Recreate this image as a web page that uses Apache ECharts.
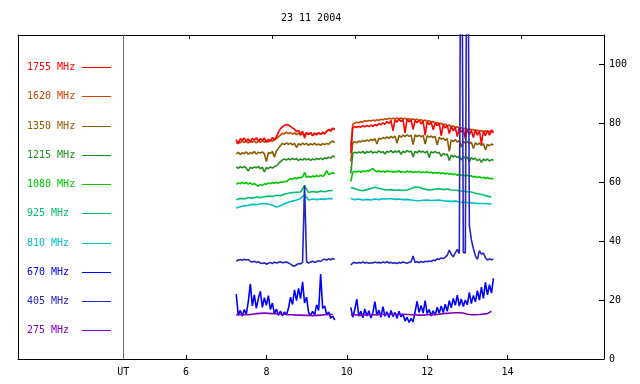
<!DOCTYPE html>
<html><head><meta charset="utf-8">
<script src="https://cdn.jsdelivr.net/npm/echarts@6/dist/echarts.min.js"></script>
<style>html,body{margin:0;padding:0;background:#fff}#c{width:640px;height:384px}</style>
</head><body><div id="c"></div>
<script>
// ---------------- data ----------------
const chartTitle = '23 11 2004';
const xTickValues = [6, 8, 10, 12, 14];
const utValue = 4.44;
const utLabel = 'UT';
const yTickValues = [0, 20, 40, 60, 80, 100];
const gapTime = 9.9;

const tFine1 = [7.25,7.30,7.35,7.40,7.45,7.50,7.55,7.60,7.65,7.70,
 7.75,7.80,7.85,7.90,7.95,8.00,8.05,8.10,8.15,8.20,
 8.25,8.30,8.35,8.40,8.45,8.50,8.55,8.60,8.65,8.70,
 8.75,8.80,8.85,8.90,8.95,9.00,9.05,9.10,9.15,9.20,
 9.25,9.30,9.35,9.40,9.45,9.50,9.55,9.60,9.65,9.70];
const tFine2 = [10.10,10.15,10.20,10.25,10.30,10.35,10.40,10.45,10.50,10.55,
 10.60,10.65,10.70,10.75,10.80,10.85,10.90,10.95,11.00,11.05,
 11.10,11.15,11.20,11.25,11.30,11.35,11.40,11.45,11.50,11.55,
 11.60,11.65,11.70,11.75,11.80,11.85,11.90,11.95,12.00,12.05,
 12.10,12.15,12.20,12.25,12.30,12.35,12.40,12.45,12.50,12.55,
 12.60,12.65,12.70,12.75,12.80,12.85,12.90,12.95,13.00,13.05,
 13.10,13.15,13.20,13.25,13.30,13.35,13.40,13.45,13.50,13.55,
 13.60,13.65];
const tCoarse1 = [7.25,7.35,7.45,7.55,7.65,7.75,7.85,7.95,8.05,8.15,
 8.25,8.35,8.45,8.55,8.65,8.75,8.85,8.95,9.05,9.15,
 9.25,9.35,9.45,9.55,9.65];
const tCoarse2 = [10.1,10.2,10.3,10.4,10.5,10.6,10.7,10.8,10.9,11.0,
 11.1,11.2,11.3,11.4,11.5,11.6,11.7,11.8,11.9,12.0,
 12.1,12.2,12.3,12.4,12.5,12.6,12.7,12.8,12.9,13.0,
 13.1,13.2,13.3,13.4,13.5,13.6];

const f1755a = [74.5,73.0,74.8,74.2,75.0,74.0,74.8,73.5,74.9,74.3,
 75.1,74.0,74.8,74.2,75.0,73.6,74.6,74.0,75.2,74.4,
 75.5,77.0,78.2,78.8,79.3,79.6,79.4,79.0,78.5,78.0,
 77.2,77.6,76.4,77.3,75.0,77.0,76.2,76.9,75.8,76.7,
 76.1,76.8,76.3,77.0,76.5,77.4,77.9,77.6,78.4,78.0];
const f1755b = [70.0,78.5,78.9,78.6,79.0,78.7,79.2,78.8,79.3,78.9,
 79.4,79.0,79.6,79.2,79.9,79.5,80.2,79.7,80.6,80.0,
 81.0,77.5,81.2,80.4,81.5,80.6,81.3,76.8,81.4,80.5,
 81.2,78.0,81.0,80.2,81.1,79.8,80.8,76.0,80.6,79.6,
 80.5,77.8,80.2,79.2,80.0,75.8,79.6,78.4,79.3,76.5,
 79.0,77.5,78.6,75.5,78.5,77.0,78.2,74.8,78.0,76.3,
 77.6,75.2,77.8,76.0,77.5,73.0,77.4,75.8,77.6,76.0,
 77.8,76.8];

const f1620a = [73.2,73.8,73.4,74.0,73.5,73.9,73.3,74.1,73.6,73.9,
 73.4,74.0,73.5,74.1,73.6,74.0,73.7,74.2,73.9,74.4,
 74.8,75.5,76.0,76.6,76.4,77.0,76.5,76.9,76.3,76.8,
 76.2,76.7,76.0,76.6,76.1,76.7,76.2,76.8,76.0,76.6,
 76.2,76.9,76.3,76.8,76.5,77.2,77.8,77.3,78.2,77.9];
const f1620b = [72.0,79.8,80.1,80.4,80.2,80.6,80.5,80.9,80.7,81.0,
 80.8,81.1,80.9,81.2,81.0,81.4,81.2,81.6,81.4,81.7,
 81.5,81.7,81.5,81.8,81.6,81.8,81.5,81.7,81.4,81.6,
 81.3,81.5,81.2,81.4,81.0,81.2,80.9,81.1,80.7,80.9,
 80.5,80.6,80.2,80.3,79.9,80.0,79.6,79.7,79.3,79.4,
 79.0,79.1,78.7,78.8,78.4,78.5,78.2,78.3,78.0,78.1,
 77.8,77.9,77.6,77.7,77.4,77.5,77.3,77.4,77.2,77.3,
 77.1,77.2];

const f1350a = [69.6,70.2,69.4,70.0,69.7,70.3,69.5,70.1,69.8,70.4,
 69.6,70.2,69.9,70.3,69.7,67.0,70.1,69.8,70.4,68.5,
 70.6,71.5,72.5,73.2,72.8,73.4,72.9,73.3,72.7,73.2,
 71.8,73.1,72.6,73.3,72.8,73.2,72.5,73.1,72.7,73.3,
 72.6,73.0,72.5,73.1,72.8,73.2,72.9,73.6,74.0,73.5];
const f1350b = [67.0,73.5,73.8,73.4,74.0,73.7,74.2,73.9,74.4,74.0,
 74.6,74.2,74.8,73.0,75.0,74.6,75.2,74.8,75.4,74.9,
 75.6,75.1,75.7,73.2,75.9,75.3,76.0,75.5,76.1,75.6,
 76.0,72.8,76.1,75.5,76.0,75.4,75.9,73.0,75.8,75.3,
 75.7,75.2,75.6,72.6,75.3,74.6,75.0,74.2,74.8,70.5,
 74.4,73.8,74.5,73.6,74.2,72.0,73.9,73.3,73.8,73.0,
 73.6,71.5,73.4,72.8,73.3,72.5,73.1,71.0,72.9,72.4,
 73.0,72.6];

const f1215a = [65.2,64.7,65.3,64.9,65.4,64.8,63.8,65.1,64.7,65.2,
 64.9,65.3,64.6,65.1,63.5,65.0,64.6,65.2,64.8,65.3,
 65.6,66.3,67.0,67.6,67.9,67.5,68.0,67.6,68.1,67.7,
 68.0,67.4,67.9,67.5,68.1,67.6,68.0,67.4,67.9,67.6,
 68.1,67.8,68.2,67.7,68.3,68.0,68.5,68.2,68.9,68.6];
const f1215b = [63.0,69.8,70.2,69.9,70.3,70.0,70.5,69.8,70.4,70.1,
 70.6,69.9,70.3,70.0,70.7,70.1,70.4,69.6,70.5,70.2,
 70.8,70.0,70.6,70.2,70.7,69.5,70.6,70.1,70.8,70.3,
 70.6,68.6,70.5,70.0,70.7,70.2,70.5,70.0,70.6,68.4,
 70.4,70.0,70.5,69.9,70.2,68.8,69.8,69.3,69.6,67.4,
 69.2,68.6,69.0,68.4,68.9,67.6,68.7,68.2,68.6,67.0,
 68.4,67.8,68.2,67.3,67.9,66.8,67.8,67.4,67.9,67.2,
 67.7,67.5];

const f1080a = [59.3,59.8,59.5,60.0,59.6,59.9,59.4,59.8,59.2,59.6,
 59.0,58.7,59.2,58.9,59.5,59.3,59.8,59.5,59.9,59.6,
 60.0,59.7,60.1,60.0,60.3,60.2,60.8,61.2,61.0,61.5,
 61.2,61.6,61.5,61.8,63.4,61.6,62.1,61.7,62.2,61.8,
 62.3,61.9,62.4,62.0,62.5,64.0,62.6,62.9,63.2,62.9];
const f1080b = [60.2,63.4,63.7,63.5,63.8,63.4,63.9,63.6,64.0,63.7,
 64.3,64.7,63.9,63.6,63.9,63.5,63.8,63.4,63.9,63.6,
 63.8,63.4,63.7,63.5,63.9,63.4,63.7,63.3,63.8,63.5,
 63.7,63.3,63.6,63.4,63.7,63.2,63.5,63.3,63.6,63.2,
 63.4,63.0,63.3,63.1,63.3,62.9,63.2,62.8,63.1,62.7,
 63.0,62.6,62.8,62.4,62.7,62.3,62.5,62.1,62.4,62.0,
 62.2,61.8,62.0,61.6,61.9,61.5,61.7,61.3,61.6,61.2,
 61.4,61.1];

const f925a = [54.1,54.5,54.3,54.8,54.6,55.0,54.8,55.1,55.3,55.2,
 55.6,55.4,56.0,56.3,56.5,56.6,56.7,58.8,56.5,56.9,
 56.6,57.0,56.8,57.1,57.2];
const f925b = [58.2,57.9,57.4,57.1,57.5,57.9,58.3,57.9,57.6,57.4,
 57.5,57.3,57.4,57.2,57.4,57.8,58.4,58.3,57.8,57.5,
 57.4,57.7,57.8,57.5,57.7,57.4,57.3,57.1,57.0,56.8,
 56.7,56.3,56.0,55.7,55.3,54.9];

const f810a = [51.3,51.7,52.0,52.2,52.5,52.4,52.7,52.8,52.6,52.2,
 51.6,52.0,52.7,53.2,53.6,54.0,54.5,55.8,54.0,54.3,
 54.1,54.3,54.2,54.5,54.4];
const f810b = [54.5,54.1,54.3,54.0,54.2,54.0,54.3,54.1,54.4,54.3,
 54.5,54.2,54.3,54.1,54.2,54.0,53.8,53.7,53.9,54.0,
 53.8,53.9,54.0,53.7,53.6,53.5,53.6,53.3,53.2,53.1,
 53.0,52.9,52.8,52.8,52.7,52.6];

const f670a = [22.0,14.8,16.5,14.6,16.8,15.2,19.5,25.5,18.0,21.8,
 17.2,20.5,23.0,17.5,20.8,18.2,21.5,16.8,19.0,15.3,
 17.0,14.8,16.3,14.6,16.0,15.0,17.2,21.0,18.5,23.5,
 19.8,24.0,20.5,26.2,19.0,21.0,15.8,14.8,16.2,15.0,
 18.4,16.5,28.8,17.2,18.0,15.0,16.0,13.8,14.6,13.2];
const f670b = [17.5,14.2,16.8,20.3,14.5,16.2,14.0,17.0,14.6,16.4,
 13.9,15.8,19.5,14.8,16.6,14.2,17.8,14.5,16.0,14.1,
 16.5,14.4,15.8,13.8,16.2,14.3,15.2,12.9,14.2,12.4,
 13.8,12.6,16.0,19.6,15.8,18.2,15.6,19.8,15.4,16.8,
 14.6,16.4,14.8,17.6,15.5,18.0,15.8,18.6,16.2,19.8,
 17.4,20.6,18.2,21.7,18.0,20.4,17.8,20.0,18.4,22.6,
 18.8,21.6,19.4,23.2,20.0,24.4,20.6,26.0,21.8,25.2,
 22.4,27.4];

const f405a = [33.2,33.6,33.8,33.5,33.9,33.6,33.8,33.1,32.9,33.2,
 32.8,33.0,32.6,32.4,32.7,32.2,32.5,32.8,32.4,32.9,
 32.6,32.8,33.0,32.7,32.8,32.9,32.6,32.2,31.7,31.5,
 32.0,32.4,32.3,32.8,59.0,33.0,32.6,32.9,33.2,32.8,
 33.0,33.4,33.1,33.7,33.9,33.6,34.0,33.7,34.1,33.8];
const f405b = [31.9,32.6,32.8,32.5,32.8,32.6,32.9,32.6,32.8,32.5,
 32.7,32.6,32.9,32.7,32.8,32.6,32.9,32.7,33.0,32.6,
 32.8,32.5,32.7,32.4,32.8,32.6,32.9,32.7,32.5,32.8,
 33.0,35.0,32.8,33.0,32.7,33.1,32.8,33.2,33.0,33.3,
 33.1,33.6,33.4,34.0,33.8,34.3,34.1,34.6,35.2,37.0,
 35.6,34.7,36.0,37.2,35.8,200,36.2,36.0,200,45.3,
 40.5,37.5,35.0,33.8,36.8,35.6,36.0,34.4,33.6,34.0,
 33.7,33.9];

const f275a = [15.0,15.0,15.1,15.0,15.2,15.4,15.5,15.6,15.5,15.4,
 15.4,15.3,15.2,15.0,15.0,14.9,14.9,14.8,14.8,14.7,
 14.8,14.9,15.0,15.1,15.2];
const f275b = [15.0,15.0,14.9,14.9,15.0,15.0,15.0,15.1,15.1,15.2,
 15.2,15.2,15.2,15.2,15.1,15.0,15.0,14.9,14.9,15.0,
 15.0,15.1,15.2,15.4,15.5,15.6,15.7,15.7,15.6,15.2,
 15.0,15.0,15.1,15.3,15.4,16.2];

const legendNames = ['1755 MHz','1620 MHz','1350 MHz','1215 MHz','1080 MHz','925 MHz','810 MHz','670 MHz','405 MHz','275 MHz'];

// ---------------- styling ----------------
const colors = {
  '1755 MHz':'#ff0000','1620 MHz':'#c84600','1350 MHz':'#8a5c00','1215 MHz':'#228b22',
  '1080 MHz':'#00c800','925 MHz':'#00bf6a','810 MHz':'#00c0c0','670 MHz':'#0000ff',
  '405 MHz':'#2525bf','275 MHz':'#8000c0'
};
const FONT = '"DejaVu Sans Mono", monospace';

function pairs(ta, va, tb, vb) {
  const a = ta.map((t, i) => [t, va[i]]);
  const b = tb.map((t, i) => [t, vb[i]]);
  return a.concat([[gapTime, '-']], b);
}

// draw order (last on top)
const seriesDefs = [
  ['670 MHz', tFine1, f670a, tFine2, f670b],
  ['275 MHz', tCoarse1, f275a, tCoarse2, f275b],
  ['810 MHz', tCoarse1, f810a, tCoarse2, f810b],
  ['925 MHz', tCoarse1, f925a, tCoarse2, f925b],
  ['1080 MHz', tFine1, f1080a, tFine2, f1080b],
  ['1215 MHz', tFine1, f1215a, tFine2, f1215b],
  ['1350 MHz', tFine1, f1350a, tFine2, f1350b],
  ['1620 MHz', tFine1, f1620a, tFine2, f1620b],
  ['1755 MHz', tFine1, f1755a, tFine2, f1755b],
  ['405 MHz', tFine1, f405a, tFine2, f405b]
];

const series = seriesDefs.map((d, k) => {
  const s = {
    name: d[0], type: 'line', xAxisIndex: 0, yAxisIndex: 0,
    data: pairs(d[1], d[2], d[3], d[4]),
    showSymbol: false, symbol: 'none', connectNulls: false, clip: true,
    lineStyle: { color: colors[d[0]], width: 1.6 },
    itemStyle: { color: colors[d[0]] },
    silent: true, animation: false
  };
  if (k === 0) {
    s.markLine = {
      silent: true, symbol: 'none', label: { show: false }, animation: false,
      lineStyle: { color: '#6e6e6e', width: 1, type: 'solid' },
      data: [{ xAxis: utValue }]
    };
  }
  return s;
});

const graphics = [];
legendNames.forEach((n, i) => {
  const y = Math.round(67 + i * 29.25) + 0.5;
  graphics.push({
    type: 'text', x: 27, y: y, silent: true,
    style: { text: n, fill: colors[n], font: '10px ' + FONT, verticalAlign: 'middle', textVerticalAlign: 'middle' }
  });
  graphics.push({
    type: 'line', silent: true,
    shape: { x1: 82, y1: y, x2: 111, y2: y },
    style: { stroke: colors[n], lineWidth: 1 }
  });
});

const option = {
  backgroundColor: '#ffffff',
  animation: false,
  title: {
    text: chartTitle, left: 281, top: 13, padding: 0,
    textStyle: { fontSize: 10, fontWeight: 'normal', color: '#000', fontFamily: FONT }
  },
  grid: { left: 18, right: 36, top: 35, bottom: 25, containLabel: false },
  xAxis: [
    {
      type: 'value', position: 'bottom', min: 1.82, max: 16.4,
      axisLine: { show: true, onZero: false, lineStyle: { color: '#000', width: 1 } },
      axisTick: { show: true, inside: true, length: 4, customValues: xTickValues, lineStyle: { color: '#000' } },
      axisLabel: {
        show: true, customValues: [utValue].concat(xTickValues), margin: 8,
        color: '#000', fontSize: 10, fontFamily: FONT,
        formatter: v => (Math.abs(v - utValue) < 1e-6 ? utLabel : String(v))
      },
      splitLine: { show: false }
    },
    {
      type: 'value', position: 'top', min: 1.88, max: 16.0,
      axisLine: { show: true, onZero: false, lineStyle: { color: '#000', width: 1 } },
      axisTick: { show: true, inside: true, length: 4, customValues: xTickValues, lineStyle: { color: '#000' } },
      axisLabel: { show: false },
      splitLine: { show: false }
    }
  ],
  yAxis: [
    {
      type: 'value', position: 'right', min: 0, max: 110,
      axisLine: { show: true, onZero: false, lineStyle: { color: '#000', width: 1 } },
      axisTick: { show: true, inside: true, length: 5, customValues: yTickValues, lineStyle: { color: '#000' } },
      axisLabel: { show: true, customValues: yTickValues, margin: 5, color: '#000', fontSize: 10, fontFamily: FONT },
      splitLine: { show: false }
    },
    {
      type: 'value', position: 'left', min: 0, max: 110,
      axisLine: { show: true, onZero: false, lineStyle: { color: '#000', width: 1 } },
      axisTick: { show: false }, axisLabel: { show: false }, splitLine: { show: false }
    }
  ],
  graphic: graphics,
  series: series
};

const chart = echarts.init(document.getElementById('c'), null, { renderer: 'canvas' });
chart.setOption(option);
</script>
</body></html>
